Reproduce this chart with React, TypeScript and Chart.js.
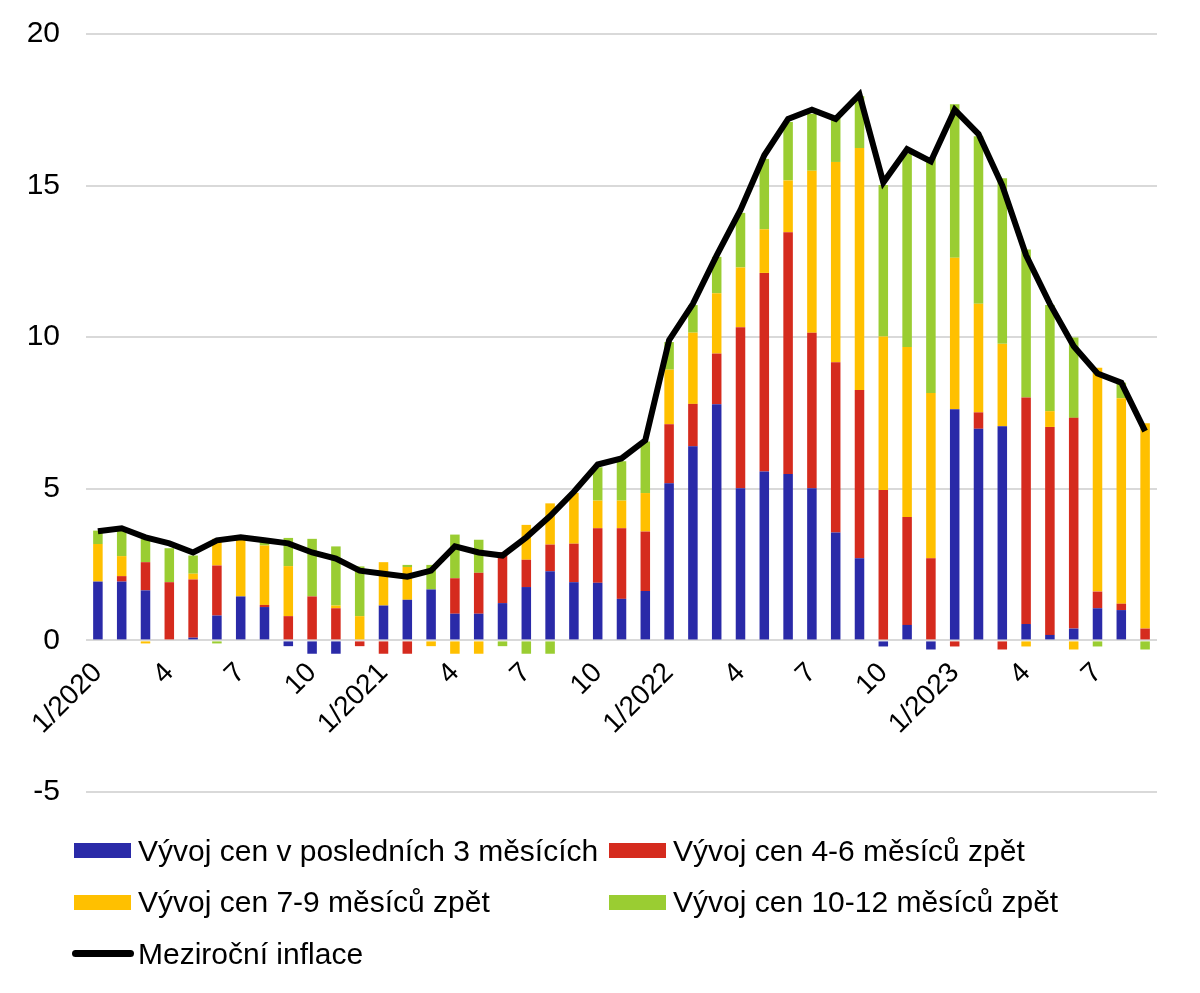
import React, { useEffect, useRef } from "react";
import { Chart, registerables } from "chart.js";

Chart.register(...registerables);

const FONT = "'Liberation Sans', Arial, sans-serif";

// months 1/2020 .. 9/2023
const categories = [
  "1/2020", "2/2020", "3/2020", "4/2020", "5/2020", "6/2020", "7/2020", "8/2020", "9/2020", "10/2020", "11/2020", "12/2020",
  "1/2021", "2/2021", "3/2021", "4/2021", "5/2021", "6/2021", "7/2021", "8/2021", "9/2021", "10/2021", "11/2021", "12/2021",
  "1/2022", "2/2022", "3/2022", "4/2022", "5/2022", "6/2022", "7/2022", "8/2022", "9/2022", "10/2022", "11/2022", "12/2022",
  "1/2023", "2/2023", "3/2023", "4/2023", "5/2023", "6/2023", "7/2023", "8/2023", "9/2023",
];

const last3 = [
  1.94, 1.94, 1.65, 0, 0.09, 0.82, 1.45, 1.1, -0.19, -0.44, -0.44, 0,
  1.15, 1.34, 1.68, 0.88, 0.88, 1.23, 1.76, 2.28, 1.92, 1.9, 1.37, 1.63,
  5.18, 6.4, 7.79, 5.02, 5.57, 5.49, 5.02, 3.56, 2.71, -0.2, 0.51, -0.3,
  7.62, 6.98, 7.06, 0.54, 0.18, 0.39, 1.06, 1.0, 0,
];

const back4to6 = [
  0, 0.18, 0.93, 1.92, 1.92, 1.65, 0, 0.07, 0.8, 1.45, 1.06, -0.19,
  -0.44, -0.44, 0, 1.17, 1.35, 1.68, 0.9, 0.88, 1.27, 1.8, 2.33, 1.96,
  1.95, 1.4, 1.67, 5.31, 6.55, 7.97, 5.13, 5.61, 5.55, 4.96, 3.56, 2.71,
  -0.2, 0.54, -0.3, 7.47, 6.86, 6.95, 0.55, 0.21, 0.39,
];

const back7to9 = [
  1.24, 0.66, -0.1, 0, 0.19, 0.88, 1.87, 1.96, 1.65, 0, 0.09, 0.8,
  1.43, 1.08, -0.19, -0.44, -0.44, 0, 1.15, 1.36, 1.68, 0.91, 0.91, 1.27,
  1.8, 2.35, 1.99, 1.97, 1.44, 1.71, 5.34, 6.61, 7.98, 5.06, 5.61, 5.45,
  5.0, 3.58, 2.72, -0.2, 0.52, -0.3, 7.38, 6.78, 6.77,
];

const back10to12 = [
  0.44, 0.84, 0.77, 1.12, 0.6, -0.1, 0, 0.11, 0.93, 1.9, 1.95, 1.64,
  0, 0.07, 0.81, 1.44, 1.09, -0.19, -0.44, -0.44, 0, 1.1, 1.3, 1.7,
  0.91, 0.91, 1.2, 1.8, 2.32, 1.93, 1.88, 1.44, 1.71, 5.0, 6.38, 7.78,
  5.06, 5.53, 5.46, 4.88, 3.5, 2.65, -0.2, 0.51, -0.3,
];

const inflation = [
  3.6, 3.7, 3.4, 3.2, 2.9, 3.3, 3.4, 3.3, 3.2, 2.9, 2.7, 2.3,
  2.2, 2.1, 2.3, 3.1, 2.9, 2.8, 3.4, 4.1, 4.9, 5.8, 6.0, 6.6,
  9.9, 11.1, 12.7, 14.2, 16.0, 17.2, 17.5, 17.2, 18.0, 15.1, 16.2, 15.8,
  17.5, 16.7, 15.0, 12.7, 11.1, 9.7, 8.8, 8.5, 6.9,
];

const seriesNames = [
  "Vývoj cen v posledních 3 měsících",
  "Vývoj cen 4-6 měsíců zpět",
  "Vývoj cen 7-9 měsíců zpět",
  "Vývoj cen 10-12 měsíců zpět",
  "Meziroční inflace",
];

const COLORS = {
  BLUE: "#2a2aa8",
  RED: "#d52b1e",
  YELLOW: "#ffc000",
  GREEN: "#9acd32",
  BLACK: "#000000",
};

// show 1/yyyy, 4, 7, 10 only
const tickLabel = (cat: string): string => {
  const [m, y] = cat.split("/");
  if (m === "1") return `1/${y}`;
  if (m === "4" || m === "7" || m === "10") return m;
  return "";
};

const InflationChart: React.FC = () => {
  const chartRef = useRef<Chart | null>(null);
  const canvasRef = useRef<HTMLCanvasElement>(null);

  useEffect(() => {
    if (!canvasRef.current) return;
    const ctx = canvasRef.current.getContext("2d");
    if (!ctx) return;

    const bar = (label: string, data: number[], color: string) => ({
      type: "bar" as const,
      label,
      data,
      backgroundColor: color,
      borderWidth: 0,
      stack: "bars",
      order: 1,
      barPercentage: 0.4,
      categoryPercentage: 1,
    });

    chartRef.current = new Chart(ctx, {
      type: "bar",
      data: {
        labels: categories,
        datasets: [
          bar(seriesNames[0], last3, COLORS.BLUE),
          bar(seriesNames[1], back4to6, COLORS.RED),
          bar(seriesNames[2], back7to9, COLORS.YELLOW),
          bar(seriesNames[3], back10to12, COLORS.GREEN),
          {
            type: "line" as const,
            label: seriesNames[4],
            data: inflation,
            borderColor: COLORS.BLACK,
            backgroundColor: COLORS.BLACK,
            borderWidth: 6,
            pointRadius: 0,
            tension: 0,
            stack: "line",
            order: 0,
          },
        ] as any,
      },
      options: {
        animation: false,
        responsive: true,
        maintainAspectRatio: false,
        layout: { padding: { top: 23, right: 43, bottom: 18, left: 0 } },
        plugins: {
          legend: { display: false },
          tooltip: { enabled: false },
        },
        scales: {
          x: {
            type: "category",
            position: { y: 0 } as any,
            offset: true,
            grid: { display: false, drawTicks: false },
            border: { display: false },
            ticks: {
              autoSkip: false,
              maxRotation: 45,
              minRotation: 45,
              padding: 16,
              color: "#000",
              font: { family: FONT, size: 28 },
              callback: (_v: any, i: number) => tickLabel(categories[i]),
            },
          },
          y: {
            stacked: true,
            min: -5,
            max: 20,
            afterFit: (scale: any) => {
              scale.width = 86;
            },
            grid: { color: "#d9d9d9", lineWidth: 2, drawTicks: false },
            border: { display: false },
            ticks: {
              stepSize: 5,
              padding: 26,
              color: "#000",
              font: { family: FONT, size: 30 },
            },
          },
        },
      },
    });

    return () => {
      if (chartRef.current) {
        chartRef.current.destroy();
        chartRef.current = null;
      }
    };
  }, []);

  const legendItems = [
    { name: seriesNames[0], color: COLORS.BLUE, line: false },
    { name: seriesNames[1], color: COLORS.RED, line: false },
    { name: seriesNames[2], color: COLORS.YELLOW, line: false },
    { name: seriesNames[3], color: COLORS.GREEN, line: false },
    { name: seriesNames[4], color: COLORS.BLACK, line: true },
  ];

  return (
    <div style={{ position: "absolute", left: 0, top: 0, width: 1200, height: 993, background: "#fff", overflow: "hidden" }}>
      <div style={{ position: "absolute", left: 0, top: -10, width: 1200, height: 846 }}>
        <canvas ref={canvasRef}></canvas>
      </div>
      <div
        style={{
          position: "absolute",
          left: 72,
          top: 825,
          display: "grid",
          gridTemplateColumns: "535px 500px",
          gridAutoRows: "51.5px",
          fontFamily: FONT,
          fontSize: 30,
          color: "#000",
        }}
      >
        {legendItems.map((item) => (
          <div key={item.name} style={{ display: "flex", alignItems: "center", whiteSpace: "nowrap" }}>
            {item.line ? (
              <div style={{ width: 62, height: 7, borderRadius: 4, background: item.color, marginRight: 4 }}></div>
            ) : (
              <div style={{ width: 57, height: 15, background: item.color, marginLeft: 2, marginRight: 7 }}></div>
            )}
            <span>{item.name}</span>
          </div>
        ))}
      </div>
    </div>
  );
};

export default function App() {
  return <InflationChart />;
}
